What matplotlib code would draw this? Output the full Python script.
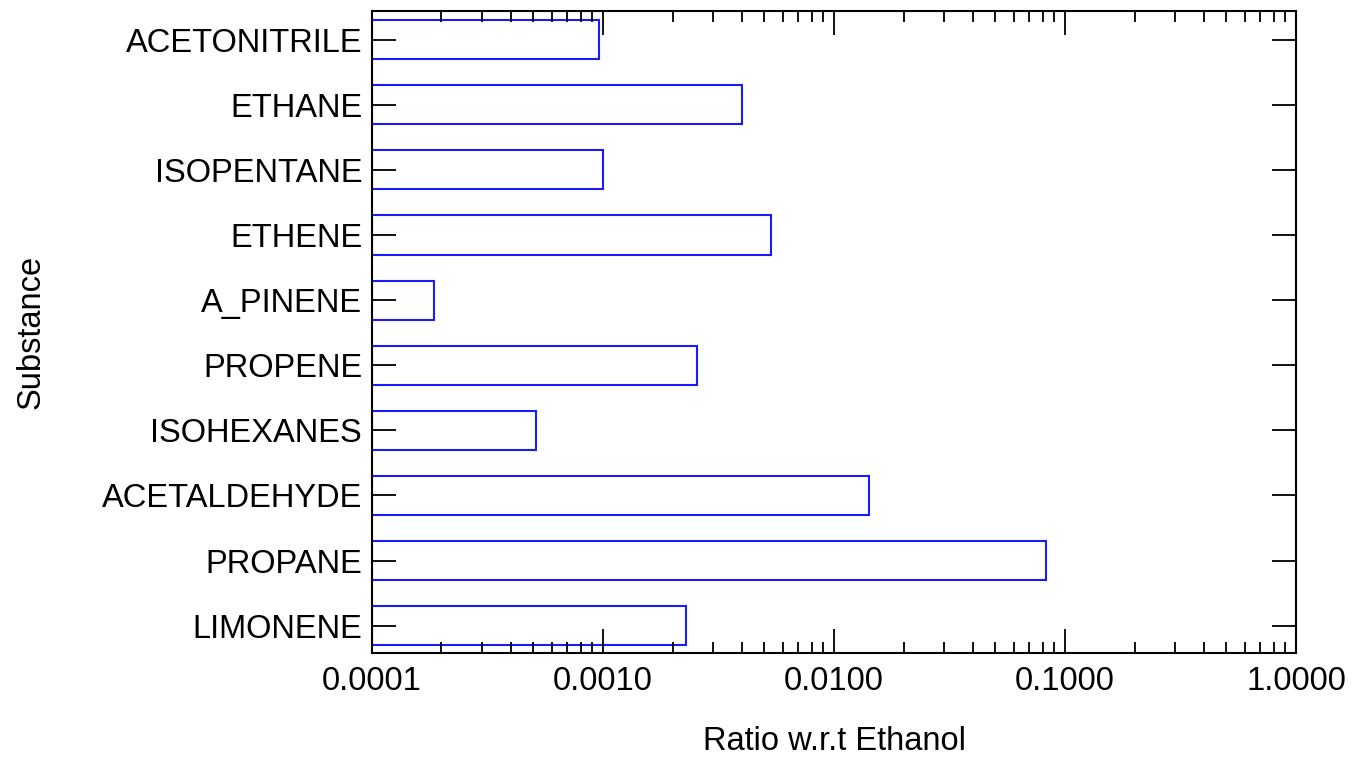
import matplotlib
matplotlib.use("Agg")
import matplotlib.pyplot as plt
from matplotlib.ticker import LogLocator, FixedLocator, NullFormatter

substances = ["LIMONENE", "PROPANE", "ACETALDEHYDE", "ISOHEXANES", "PROPENE",
              "A_PINENE", "ETHENE", "ISOPENTANE", "ETHANE", "ACETONITRILE"]
ratios = [2.29e-3, 8.28e-2, 1.42e-2, 5.13e-4, 2.55e-3,
          1.86e-4, 5.34e-3, 1.0e-3, 4.0e-3, 9.6e-4]
xticks = [1e-4, 1e-3, 1e-2, 1e-1, 1.0]
xticklabels = ["0.0001", "0.0010", "0.0100", "0.1000", "1.0000"]
xmin = 1e-4

plt.rcParams['font.family'] = ['Liberation Sans', 'DejaVu Sans']

fig = plt.figure(figsize=(13.53, 7.66), dpi=100)
ax = fig.add_axes([0.2749, 0.1475, 0.9579 - 0.2749, 0.9856 - 0.1475])

ypos = list(range(len(substances)))
widths = [r - xmin for r in ratios]
ax.barh(ypos, widths, height=0.6, left=xmin, facecolor='white',
        edgecolor='#1a1aff', linewidth=1.5, zorder=2)
ax.set_axisbelow(False)

ax.set_xscale('log')
ax.set_xlim(1e-4, 1.0)
ax.set_ylim(-0.42, 9.44)

ax.xaxis.set_major_locator(FixedLocator(xticks))
ax.set_xticklabels(xticklabels)
ax.xaxis.set_minor_locator(LogLocator(base=10, subs=range(2, 10)))
ax.xaxis.set_minor_formatter(NullFormatter())

ax.set_yticks(ypos)
ax.set_yticklabels(substances)

fs = 23.5
ax.tick_params(axis='x', which='major', direction='in', length=17, width=1.3,
               top=True, bottom=True, labelsize=fs, pad=9)
ax.tick_params(axis='x', which='minor', direction='in', length=8, width=1.3,
               top=True, bottom=True)
ax.tick_params(axis='y', which='major', direction='in', length=17, width=1.3,
               left=True, right=True, labelsize=fs, pad=7)
ax.tick_params(axis='y', which='minor', left=False, right=False)

for s in ax.spines.values():
    s.set_linewidth(1.5)
    s.set_zorder(4)

ax.set_xlabel("Ratio w.r.t Ethanol", fontsize=fs)
ax.set_ylabel("Substance", fontsize=fs)
ax.xaxis.set_label_coords(0.5, -0.114)
ax.yaxis.set_label_coords(-0.352, 0.5)

fig.savefig("out.png", dpi=100)
